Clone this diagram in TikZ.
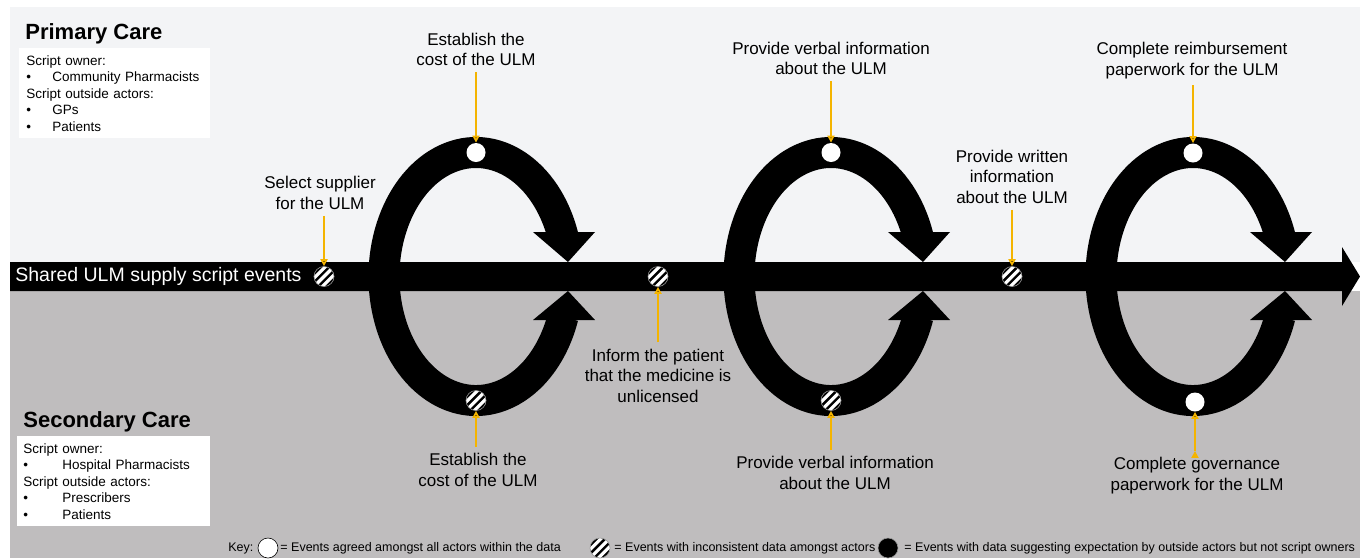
\documentclass[tikz,border=0pt]{standalone}
\usepackage{fontspec}
\setmainfont{Liberation Sans}
\usetikzlibrary{arrows.meta,calc}
\definecolor{topgrey}{HTML}{F3F4F6}
\definecolor{botgrey}{HTML}{BFBDBE}
\definecolor{evorange}{RGB}{244,180,0}
\def\lblfont{\fontsize{8.5}{10.25}\selectfont}
\def\boxfont{\fontsize{6.75}{8.25}\selectfont}
\def\keyfont{\fontsize{6.25}{7.5}\selectfont}
\def\bul#1{\makebox[#1][l]{\textbullet}}

\begin{document}
\begin{tikzpicture} [x=0.5pt, y=-0.5pt,
    lbl/.style={align=center, font=\lblfont, inner sep=3pt},
    infobox/.style={fill=white, align=left, font=\boxfont, minimum height=45pt, inner ysep=0pt},
    wdot/.style={circle, fill=white, inner sep=0pt, minimum size=9.5pt},
    bdot/.style={circle, fill=black, draw=white!60!black, line width=0.3pt, inner sep=0pt, minimum size=10pt},
    sdot/.style={bdot, path picture={
        \foreach \off in {-4.2,0,4.2}
          \draw[white, line width=1.6pt]
            ([shift={(\off-8.5,\off+8.5)}]path picture bounding box.center)
            -- ([shift={(\off+8.5,\off-8.5)}]path picture bounding box.center);}},
    evarrow/.style={draw=evorange, line width=0.9pt, -{Triangle[length=3.5pt,width=3.5pt]}}
  ]
  \useasboundingbox (0,0) rectangle (1360,558);
  \fill[topgrey] (10,7) rectangle (1360,262);
  \fill[botgrey] (10,291) rectangle (1360,558);

  % main script line
  \fill (10,262) -- (1342,262) -- (1342,247) -- (1360,276.5) -- (1342,306) -- (1342,291) -- (10,291) -- cycle;
  \node[anchor=west, text=white, font=\fontsize{9.75}{11}\selectfont, inner sep=0pt] (barlbl) at (15,276.5) {Shared ULM supply script events};

  % loops
  \foreach \cx [count=\i] in {476,831,1193}{
    \coordinate (c\i) at (\cx,276.5);
    \draw[line width=15.5pt] ($(c\i)+(-19:92 and 124)$) arc[start angle=-19, end angle=-341, x radius=92, y radius=124];
    \fill ($(c\i)+(57,-44.5)$) -- ($(c\i)+(119,-44.5)$) -- ($(c\i)+(92,-14.5)$) -- cycle;
    \fill ($(c\i)+(57,43.5)$) -- ($(c\i)+(119,43.5)$) -- ($(c\i)+(92,14.5)$) -- cycle;
  }

  % events
  \node[sdot] (sel)  at (324,276.5) {};
  \node[wdot] (est1) at (476,152.5) {};
  \node[sdot] (est2) at (476,400.5) {};
  \node[sdot] (inf)  at (658,276.5) {};
  \node[wdot] (ver1) at (831,152.5) {};
  \node[sdot] (ver2) at (831,400.5) {};
  \node[sdot] (wri)  at (1012,276.5) {};
  \node[wdot] (reim) at (1193,153) {};
  \node[wdot] (gov)  at (1195,402) {};

  \node[lbl] (lsel)  at (320,193)    {Select supplier\\for the ULM};
  \node[lbl] (lest1) at (476,49.5)   {Establish the\\cost of the ULM};
  \node[lbl] (lest2) at (478,470)    {Establish the\\cost of the ULM};
  \node[lbl] (linf)  at (658,375.5)  {Inform the patient\\that the medicine is\\unlicensed};
  \node[lbl] (lver1) at (831,58.5)   {Provide verbal information\\about the ULM};
  \node[lbl] (lver2) at (835,473)    {Provide verbal information\\about the ULM};
  \node[lbl] (lwri)  at (1012,176.5) {Provide written\\information\\about the ULM};
  \node[lbl] (lreim) at (1192,60.5)  {Complete reimbursement\\paperwork for the ULM};
  \node[lbl] (lgov)  at (1197,475.5) {Complete governance\\paperwork for the ULM};

  \path[evarrow]
  (lsel.south -| sel)   edge (sel.north)
  (lest1.south -| est1) edge (est1.north)
  (lver1.south -| ver1) edge (ver1.north)
  (lwri.south -| wri)   edge (wri.north)
  (lreim.south -| reim) edge (reim.north)
  (lest2.north -| est2) edge (est2.south)
  (linf.north -| inf)   edge (inf.south)
  (lver2.north -| ver2) edge (ver2.south)
  (lgov.north -| gov)   edge (gov.south)
  ;

  % care settings
  \node[anchor=base west, font=\bfseries\fontsize{11}{13}\selectfont, inner sep=0pt] (pctitle) at (25,39) {Primary Care};
  \node[infobox, minimum width=95.5pt, text width=88.5pt, inner xsep=3.5pt, anchor=north west] (pcbox) at (19,48)
    {Script owner:\\\bul{13pt}Community Pharmacists\\Script outside actors:\\\bul{13pt}GPs\\\bul{13pt}Patients};
  \node[anchor=base west, font=\bfseries\fontsize{11}{13}\selectfont, inner sep=0pt] (sctitle) at (23,427) {Secondary Care};
  \node[infobox, minimum width=96.5pt, text width=90.5pt, inner xsep=3pt, anchor=north west] (scbox) at (17,436)
    {Script owner:\\\bul{19.5pt}Hospital Pharmacists\\Script outside actors:\\\bul{19.5pt}Prescribers\\\bul{19.5pt}Patients};

  % key
  \node[anchor=west, font=\keyfont, inner sep=0pt] (keylbl) at (228,548) {Key:};
  \node[wdot, draw=black, line width=0.3pt, minimum size=10pt] (kw) at (268,548) {};
  \node[anchor=west, font=\keyfont, inner sep=0pt] (kwt) at (280,548) {= Events agreed amongst all actors within the data};
  \node[sdot] (ks) at (600,548) {};
  \node[anchor=west, font=\keyfont, inner sep=0pt] (kst) at (614,548) {= Events with inconsistent data amongst actors};
  \node[bdot] (kb) at (888,548) {};
  \node[anchor=west, font=\keyfont, inner sep=0pt] (kbt) at (904,548) {= Events with data suggesting expectation by outside actors but not script owners};
\end{tikzpicture}
\end{document}
